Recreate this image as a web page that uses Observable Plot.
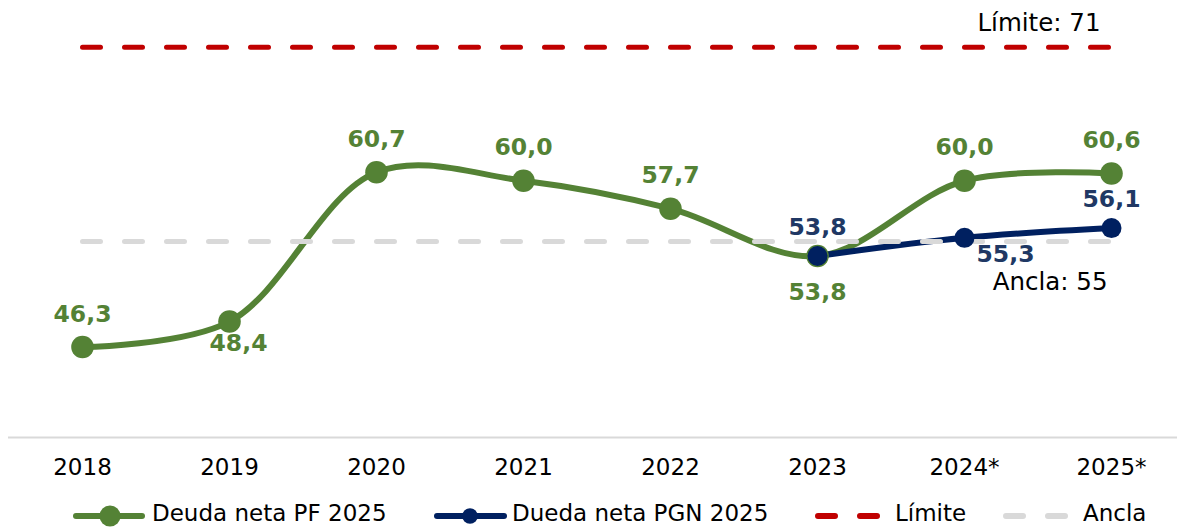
<!DOCTYPE html>
<html>
<head>
<meta charset="utf-8">
<script src="https://cdn.jsdelivr.net/npm/d3@7"></script>
<script src="https://cdn.jsdelivr.net/npm/@observablehq/plot@0.6"></script>
<style>
  html, body { margin: 0; padding: 0; background: #fff; overflow: hidden; }
  body { width: 1177px; height: 527px; font-family: "DejaVu Sans", Verdana, sans-serif; }
  #legend { display: flex; align-items: center; height: 23px; padding-left: 73px; font-size: 23px; color: #000; white-space: nowrap; }
  #legend .item { display: flex; align-items: center; flex: none; }
  #legend svg { display: block; position: relative; top: 2px; }
</style>
</head>
<body>
<div id="chart"></div>
<div id="legend"></div>
<script>
// ---- data ----
const years = ["2018", "2019", "2020", "2021", "2022", "2023", "2024*", "2025*"];
const deudaPF = [46.3, 48.4, 60.7, 60.0, 57.7, 53.8, 60.0, 60.6];
const pgnYears = ["2023", "2024*", "2025*"];
const deudaPGN = [53.8, 55.3, 56.1];
const limite = 71;
const ancla = 55;
const seriesNames = ["Deuda neta PF 2025", "Dueda neta PGN 2025", "Límite", "Ancla"];

// ---- styling ----
const green = "#548235";
const navy = "#002060";
const navyText = "#203864";
const red = "#c00000";
const gray = "#d9d9d9";
const fmt = v => v.toFixed(1).replace(".", ",");

const pf = years.map((x, i) => ({x, y: deudaPF[i]}));
const pgn = pgnYears.map((x, i) => ({x, y: deudaPGN[i]}));

const pfBelow = new Set(["2019", "2023"]);
const labelSize = 23.5;

const chart = Plot.plot({
  width: 1177,
  height: 502,
  marginLeft: 8,
  marginRight: 0,
  marginTop: 0,
  marginBottom: 65,
  style: {fontFamily: "DejaVu Sans, Verdana, sans-serif", color: "#000", background: "#fff"},
  x: {type: "point", domain: years, range: [82, 1111], padding: 0, label: null},
  y: {domain: [38.85, 74.85], axis: null},
  marks: [
    Plot.axisX({tickSize: 0, tickPadding: 21, fontSize: 23, fill: "#000", label: null}),
    Plot.ruleY([38.85], {stroke: gray, strokeWidth: 2}),
    Plot.line(years, {x: d => d, y: () => limite, stroke: red, strokeWidth: 5, strokeDasharray: "18 24", strokeLinecap: "round"}),
    Plot.line(pf, {x: "x", y: "y", stroke: green, strokeWidth: 6, curve: "catmull-rom"}),
    Plot.line(pgn, {x: "x", y: "y", stroke: navy, strokeWidth: 6, curve: "catmull-rom"}),
    Plot.line(years, {x: d => d, y: () => ancla, stroke: gray, strokeWidth: 5, strokeDasharray: "18 24", strokeLinecap: "round"}),
    Plot.dot(pf, {x: "x", y: "y", r: 11.3, fill: green}),
    Plot.dot(pgn, {x: "x", y: "y", r: 10, fill: navy}),
    // green labels
    Plot.text(pf.filter(d => !pfBelow.has(d.x)), {x: "x", y: "y", text: d => fmt(d.y), dy: -33, fill: green, fontSize: labelSize, fontWeight: "bold"}),
    Plot.text(pf.filter(d => d.x === "2019"), {x: "x", y: "y", text: d => fmt(d.y), dx: 9, dy: 22, fill: green, fontSize: labelSize, fontWeight: "bold"}),
    Plot.text(pf.filter(d => d.x === "2023"), {x: "x", y: "y", text: d => fmt(d.y), dy: 36, fill: green, fontSize: labelSize, fontWeight: "bold"}),
    // navy labels
    Plot.text(pgn.filter(d => d.x !== "2024*"), {x: "x", y: "y", text: d => fmt(d.y), dy: -29, fill: navyText, fontSize: labelSize, fontWeight: "bold"}),
    Plot.text(pgn.filter(d => d.x === "2024*"), {x: "x", y: "y", text: d => fmt(d.y), dx: 41, dy: 17, fill: navyText, fontSize: labelSize, fontWeight: "bold"}),
    // annotations
    Plot.text([limite], {x: () => "2025*", y: d => d, text: d => `Límite: ${d}`, textAnchor: "end", dx: -11, dy: -24, fontSize: 24.5, fill: "#000"}),
    Plot.text([ancla], {x: () => "2025*", y: d => d, text: d => `Ancla: ${d}`, textAnchor: "end", dx: -4, dy: 41, fontSize: 24.5, fill: "#000"})
  ]
});
document.getElementById("chart").appendChild(chart);

// ---- legend ----
const swatches = [
  `<svg width="72" height="24"><line x1="3" y1="12" x2="69" y2="12" stroke="${green}" stroke-width="6" stroke-linecap="round"/><circle cx="37" cy="12" r="10.5" fill="${green}"/></svg>`,
  `<svg width="73" height="24"><line x1="3" y1="12" x2="70" y2="12" stroke="${navy}" stroke-width="6" stroke-linecap="round"/><circle cx="36" cy="12" r="7.8" fill="${navy}"/></svg>`,
  `<svg width="66" height="24"><line x1="3" y1="12" x2="62" y2="12" stroke="${red}" stroke-width="6" stroke-linecap="round" stroke-dasharray="17 25"/></svg>`,
  `<svg width="66" height="24"><line x1="3" y1="12" x2="62" y2="12" stroke="${gray}" stroke-width="6" stroke-linecap="round" stroke-dasharray="17 25"/></svg>`
];
const gapAfterSwatch = [7, 5, 14, 14];
const itemWidth = [361, 381, 188, 170];
const legend = document.getElementById("legend");
seriesNames.forEach((name, i) => {
  const item = document.createElement("div");
  item.className = "item";
  item.style.width = itemWidth[i] + "px";
  item.innerHTML = swatches[i] + `<span style="margin-left:${gapAfterSwatch[i]}px;line-height:23px">${name}</span>`;
  legend.appendChild(item);
});
</script>
</body>
</html>
